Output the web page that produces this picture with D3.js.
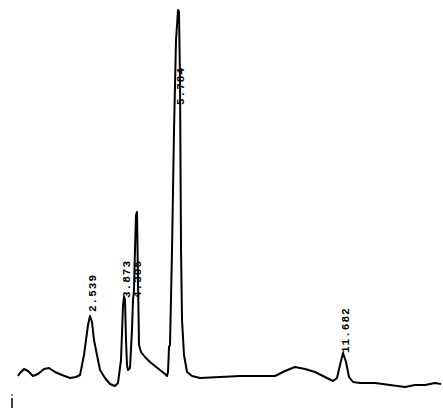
<!DOCTYPE html>
<html><head><meta charset="utf-8">
<script src="https://cdn.jsdelivr.net/npm/d3@7"></script>
<style>html,body{margin:0;padding:0;background:#fff;}svg{display:block;}</style>
</head><body>
<script>
// Retention time (min) and detector signal (arbitrary units)
const times = [0.000,0.071,0.212,0.353,0.529,0.705,0.917,1.093,1.305,1.552,1.834,2.046,2.187,2.328,2.469,2.539,2.610,2.680,2.786,2.892,3.068,3.245,3.421,3.527,3.633,3.704,3.738,3.774,3.809,3.844,3.880,3.950,4.020,4.056,4.091,4.126,4.162,4.197,4.232,4.268,4.338,4.479,4.655,4.832,5.008,5.185,
  5.256,5.291,5.326,5.361,5.432,5.503,5.573,5.644,5.679,5.714,5.750,5.785,5.855,5.961,6.138,
  6.419,7.124,7.830,8.535,9.064,9.417,9.769,10.122,10.475,10.827,11.110,11.251,11.357,11.463,11.569,11.675,11.816,12.063,12.591,13.120,13.649,14.002,14.355,14.707,14.919];
const signal = [4,7,11,9,4,6,11,12,8,5,2,3,5,25,55,64,58,40,25,10,2,-4,-6,-3,20,75,83,80,40,15,10,12,50,80,90,130,165,168,100,35,28,23,18,14,10,6,
  4,8,33,35,130,250,340,370,368,300,130,60,25,8,4,
  2,3,4,4,4,9,13,11,8,3,-1,2,15,27,18,3,-2,-3,-3,-5,-7,-5,-5,-3,-4];
// Peak labels
const peakTimes  = [2.60, 3.80, 4.20, 5.70, 11.55];
const peakLabels = ["2.539", "3.873", "4.305", "5.784", "11.682"];
const peakLabelBase = [68, 82, 82, 275, 27];

const W = 443, H = 411;
const svg = d3.select("body").append("svg").attr("width", W).attr("height", H);

const x = d3.scaleLinear().domain([0, 14.919]).range([18, 441]);
const y = d3.scaleLinear().domain([0, 370]).range([380, 10]);

const line = d3.line().x((d, i) => x(times[i])).y(d => y(d)).curve(d3.curveLinear);

svg.append("path")
  .datum(signal)
  .attr("d", line)
  .attr("fill", "none")
  .attr("stroke", "#000")
  .attr("stroke-width", 2)
  .attr("stroke-linejoin", "round");

// injection marker
svg.append("line").attr("x1", x(0) - 6).attr("x2", x(0) - 6)
  .attr("y1", y(-18)).attr("y2", y(-28))
  .attr("stroke", "#000").attr("stroke-width", 1.5);
svg.append("circle").attr("cx", x(0) - 6).attr("cy", y(-15)).attr("r", 0.8).attr("fill", "#000");

// peak labels
peakLabels.forEach((lab, i) => {
  const px = x(peakTimes[i]) + 4;
  const py = y(peakLabelBase[i]);
  svg.append("text")
    .attr("transform", `translate(${px},${py}) rotate(-90)`)
    .attr("font-family", "Liberation Mono, DejaVu Sans Mono, monospace")
    .attr("font-size", 11)
    .attr("font-weight", "bold")
    .attr("letter-spacing", 1)
    .attr("fill", "#000")
    .text(lab);
});
</script>
</body></html>
